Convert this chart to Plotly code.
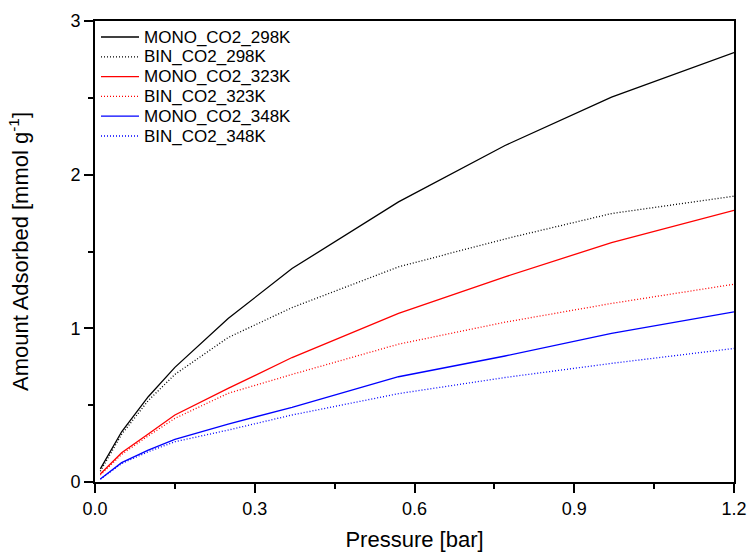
import plotly.graph_objects as go

pressure = [0.01, 0.05, 0.1, 0.15, 0.25, 0.37, 0.57, 0.77, 0.97, 1.2]
mono_298 = [0.085, 0.327, 0.555, 0.746, 1.064, 1.389, 1.823, 2.19, 2.505, 2.795]
bin_298 = [0.07, 0.31, 0.53, 0.70, 0.94, 1.135, 1.40, 1.582, 1.747, 1.86]
mono_323 = [0.052, 0.19, 0.312, 0.436, 0.609, 0.81, 1.097, 1.335, 1.558, 1.768]
bin_323 = [0.045, 0.18, 0.30, 0.414, 0.577, 0.70, 0.897, 1.04, 1.162, 1.287]
mono_348 = [0.02, 0.126, 0.208, 0.277, 0.377, 0.486, 0.685, 0.82, 0.967, 1.107]
bin_348 = [0.018, 0.12, 0.197, 0.262, 0.338, 0.436, 0.575, 0.68, 0.772, 0.869]

series = [
    ("MONO_CO2_298K", mono_298, "black", "solid"),
    ("BIN_CO2_298K", bin_298, "black", "1px,2px"),
    ("MONO_CO2_323K", mono_323, "#ff0000", "solid"),
    ("BIN_CO2_323K", bin_323, "#ff0000", "1px,2px"),
    ("MONO_CO2_348K", mono_348, "#0000ff", "solid"),
    ("BIN_CO2_348K", bin_348, "#0000ff", "1px,2px"),
]

FONT = "Liberation Sans"
W, H = 751, 554
ML, MR, MT, MB = 95, 17, 21, 72
PW, PH = W - ML - MR, H - MT - MB

fig = go.Figure()
for name, vals, color, dash in series:
    fig.add_trace(go.Scatter(x=pressure, y=vals, mode="lines", name=name,
                             line=dict(color=color, width=1.3, dash=dash),
                             showlegend=False))

# legend drawn as layout shapes/annotations (compact row spacing like the original)
shapes, annotations = [], []
row0, row_step = 37, 19.8
for i, (name, vals, color, dash) in enumerate(series):
    ypx = row0 + i * row_step
    yp = 1 - (ypx - MT) / PH
    shapes.append(dict(type="line", xref="paper", yref="paper",
                       x0=(101 - ML) / PW, x1=(139 - ML) / PW, y0=yp, y1=yp,
                       line=dict(color=color, width=1.3, dash=dash)))
    annotations.append(dict(xref="paper", yref="paper", x=(142 - ML) / PW, y=yp,
                            xanchor="left", yanchor="middle", showarrow=False,
                            text=name, font=dict(size=17, family=FONT, color="black")))

common = dict(showgrid=False, zeroline=False, linecolor="black", linewidth=1.8,
              tickcolor="black", tickwidth=1.5, automargin=False)

fig.update_layout(
    width=W, height=H,
    margin=dict(l=ML, r=MR, t=MT, b=MB),
    paper_bgcolor="white", plot_bgcolor="white",
    font=dict(family=FONT, color="black"),
    showlegend=False,
    shapes=shapes, annotations=annotations,
    xaxis=dict(range=[0, 1.2], tickvals=[0, 0.3, 0.6, 0.9, 1.2],
               ticktext=["0.0", "0.3", "0.6", "0.9", "1.2"],
               ticks="outside", ticklen=9, mirror=True,
               minor=dict(dtick=0.15, tick0=0, ticks="outside", ticklen=5,
                          tickcolor="black", tickwidth=1.5),
               tickfont=dict(size=18), title=dict(text="Pressure [bar]", font=dict(size=22), standoff=14),
               **common),
    yaxis=dict(range=[0, 3], tickvals=[0, 1, 2, 3], ticks="outside", ticklen=9, mirror=True,
               minor=dict(dtick=0.5, tick0=0, ticks="outside", ticklen=5,
                          tickcolor="black", tickwidth=1.5),
               tickfont=dict(size=18),
               title=dict(text="Amount Adsorbed [mmol g<sup>-1</sup>]", font=dict(size=22), standoff=36),
               **common),
    xaxis2=dict(range=[0, 1.2], overlaying="x", side="top", showticklabels=False,
                tickvals=[0, 0.3, 0.6, 0.9, 1.2], ticks="inside", ticklen=5,
                minor=dict(dtick=0.15, tick0=0, ticks="inside", ticklen=3,
                           tickcolor="black", tickwidth=1.2),
                showline=False, showgrid=False, zeroline=False, tickcolor="black",
                tickwidth=1.2, automargin=False),
    yaxis2=dict(range=[0, 3], overlaying="y", side="right", showticklabels=False,
                tickvals=[0, 1, 2, 3], ticks="inside", ticklen=5,
                minor=dict(dtick=0.5, tick0=0, ticks="inside", ticklen=3,
                           tickcolor="black", tickwidth=1.2),
                showline=False, showgrid=False, zeroline=False, tickcolor="black",
                tickwidth=1.2, automargin=False),
)

fig.write_html("out.html")
